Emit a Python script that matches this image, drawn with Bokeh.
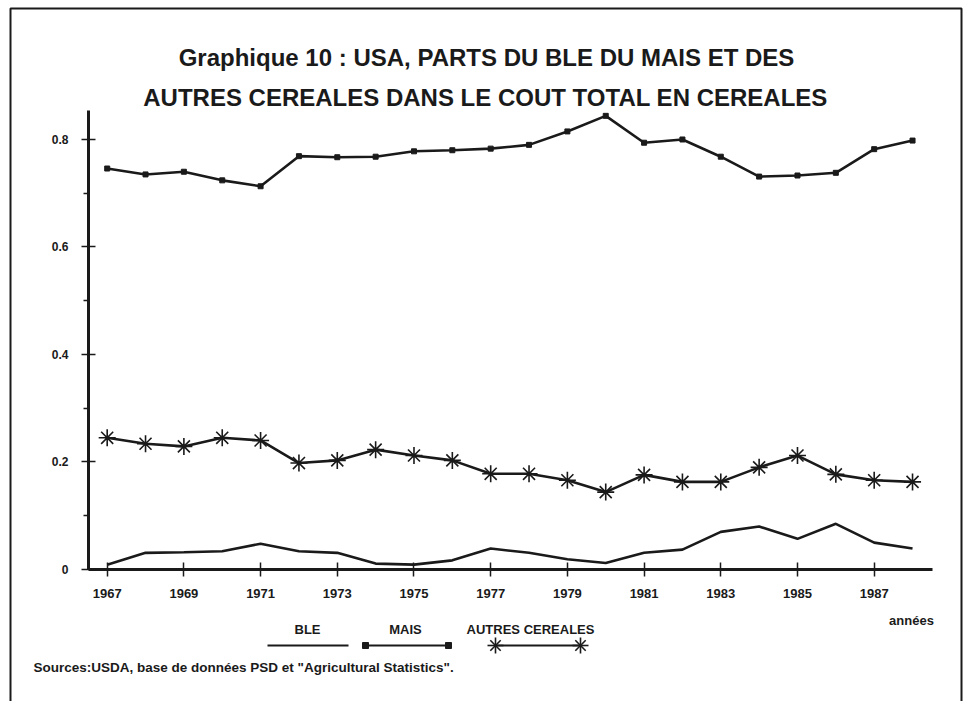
from bokeh.plotting import figure
from bokeh.models import (Range1d, FixedTicker, Label, PolyAnnotation, BoxAnnotation)
from bokeh.embed import file_html
from bokeh.resources import INLINE

# ---------------- data ----------------
years = [1967, 1968, 1969, 1970, 1971, 1972, 1973, 1974, 1975, 1976, 1977,
         1978, 1979, 1980, 1981, 1982, 1983, 1984, 1985, 1986, 1987, 1988]
ble = [0.009, 0.031, 0.032, 0.034, 0.048, 0.034, 0.031, 0.011, 0.009, 0.017, 0.039,
       0.031, 0.019, 0.012, 0.031, 0.037, 0.070, 0.080, 0.057, 0.085, 0.050, 0.039]
mais = [0.746, 0.735, 0.740, 0.724, 0.713, 0.769, 0.767, 0.768, 0.778, 0.780, 0.783,
        0.790, 0.815, 0.844, 0.794, 0.800, 0.768, 0.731, 0.733, 0.738, 0.782, 0.798]
autres = [0.245, 0.234, 0.229, 0.245, 0.240, 0.198, 0.203, 0.223, 0.212, 0.203, 0.178,
          0.178, 0.166, 0.144, 0.176, 0.163, 0.163, 0.190, 0.212, 0.177, 0.166, 0.163]

x_ticks = [1967, 1969, 1971, 1973, 1975, 1977, 1979, 1981, 1983, 1985, 1987]
y_ticks = [0, 0.2, 0.4, 0.6, 0.8]
y_minor = [0.1, 0.3, 0.5, 0.7]
y_labels = {0: "0", 0.2: "0.2", 0.4: "0.4", 0.6: "0.6", 0.8: "0.8"}

title_lines = ["Graphique 10 : USA, PARTS DU BLE DU MAIS ET DES",
               "AUTRES CEREALES DANS LE COUT TOTAL EN CEREALES"]
series_names = ["BLE", "MAIS", "AUTRES CEREALES"]
x_title = "années"
source_text = 'Sources:USDA, base de données PSD et "Agricultural Statistics".'

# ---------------- style ----------------
INK = "#1a1a1a"
FONT = "Liberation Sans"
W, H = 963, 701

# the frame covers the whole canvas; the axes sit at fixed data locations
X_LO, X_HI = 1966.51, 1988.52     # extent of the drawn x axis
Y_LO, Y_HI = 0.0, 0.854           # extent of the drawn y axis

p = figure(width=W, height=H, output_backend="svg", toolbar_location=None,
           x_range=Range1d(1964.218, 1989.329), y_range=Range1d(-0.2456, 1.0586),
           min_border=0)
p.outline_line_color = None
p.xgrid.visible = False
p.ygrid.visible = False
p.background_fill_color = "white"
p.border_fill_color = "white"

for ax in (p.xaxis[0], p.yaxis[0]):
    ax.axis_line_color = INK
    ax.axis_line_width = 3
    ax.major_tick_line_color = INK
    ax.major_tick_line_width = 1.5
    ax.minor_tick_line_color = INK
    ax.minor_tick_line_width = 1.5
    ax.major_label_text_font = FONT
    ax.major_label_text_font_style = "bold"
    ax.major_label_text_color = INK

xa = p.xaxis[0]
xa.fixed_location = 0
xa.bounds = (X_LO, X_HI)
xa.ticker = FixedTicker(ticks=x_ticks)
xa.major_tick_in = 7
xa.major_tick_out = 7
xa.minor_tick_in = 0
xa.minor_tick_out = 0
xa.major_label_standoff = 13
xa.major_label_text_font_size = "13px"

ya = p.yaxis[0]
ya.fixed_location = X_LO
ya.bounds = (Y_LO, Y_HI)
ya.ticker = FixedTicker(ticks=y_ticks, minor_ticks=y_minor)
ya.major_tick_in = 7
ya.major_tick_out = 7
ya.minor_tick_in = 0
ya.minor_tick_out = 5
ya.major_label_standoff = 13
ya.major_label_text_font_size = "12px"
ya.major_label_overrides = y_labels

# data series
p.line(years, ble, line_color=INK, line_width=2.6)
p.line(years, mais, line_color=INK, line_width=2.6)
p.scatter(years, mais, marker="square", size=5, fill_color=INK, line_color=INK)
p.line(years, autres, line_color=INK, line_width=2.6)
p.scatter(years, autres, marker="asterisk", size=17, line_color=INK, line_width=1.6)

# ---------------- annotations (screen units: from canvas left / bottom) ----------------
def label(x, y, text, size, align="center", baseline="middle"):
    p.add_layout(Label(x=x, y=y, x_units="screen", y_units="screen", text=text,
                       text_font=FONT, text_font_size=size, text_font_style="bold",
                       text_color=INK, text_align=align, text_baseline=baseline))

def seg(xs, ys, w=2.0):
    p.add_layout(PolyAnnotation(xs=xs, ys=ys, xs_units="screen", ys_units="screen",
                                fill_alpha=0, line_color=INK, line_alpha=1, line_width=w))

# title
label(486, 644, title_lines[0], "24px", baseline="alphabetic")
label(485, 604, title_lines[1], "24px", baseline="alphabetic")

# x axis title
label(911, 81, x_title, "13px")

# legend
label(307, 72, series_names[0], "13px")
label(405, 72, series_names[1], "13px")
label(530, 72, series_names[2], "13px")
ly = 56
seg([267, 348], [ly, ly])
seg([365, 448], [ly, ly])
for cx in (365, 448):
    p.add_layout(BoxAnnotation(left=cx - 3, right=cx + 3, bottom=ly - 3, top=ly + 3,
                               left_units="screen", right_units="screen",
                               bottom_units="screen", top_units="screen",
                               fill_color=INK, fill_alpha=1, line_color=INK,
                               line_alpha=1, line_width=1))
seg([495, 580], [ly, ly])
for cx in (495, 580):
    r = 8
    t = 0.65 * r
    seg([cx, cx], [ly - r, ly + r], 1.6)
    seg([cx - r, cx + r], [ly, ly], 1.6)
    seg([cx - t, cx + t], [ly - t, ly + t], 1.6)
    seg([cx - t, cx + t], [ly + t, ly - t], 1.6)

# sources
label(33, 34, source_text, "13.5px", align="left")

# outer frame (bottom edge lies below the picture)
p.add_layout(BoxAnnotation(left=10, right=961, top=693, bottom=-20,
                           left_units="screen", right_units="screen",
                           bottom_units="screen", top_units="screen",
                           fill_alpha=0, line_color=INK, line_alpha=1, line_width=2))

open("out.html", "w").write(file_html(p, INLINE))
